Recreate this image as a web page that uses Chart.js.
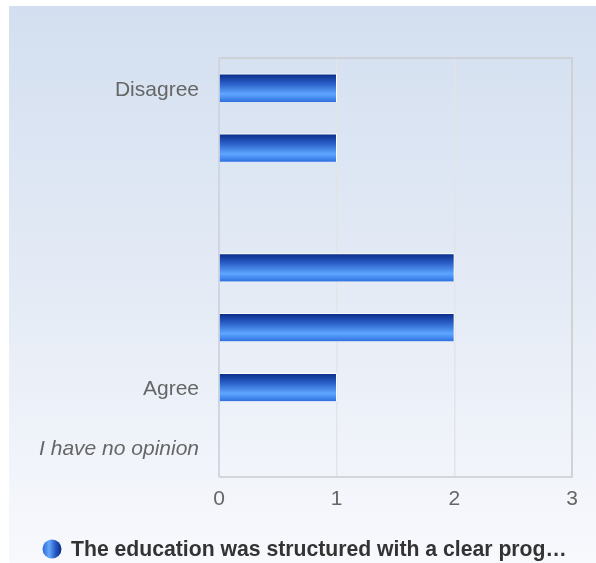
<!DOCTYPE html>
<html>
<head>
<meta charset="utf-8">
<script src="https://cdn.jsdelivr.net/npm/chart.js@4/dist/chart.umd.min.js"></script>
<style>
  html, body { margin: 0; padding: 0; background: #ffffff; }
  #wrap { position: relative; width: 596px; height: 563px; }
  #bg { position: absolute; left: 9px; top: 6px; width: 587px; height: 557px;
        background: linear-gradient(to bottom, #d3dff0 0%, #e6ecf6 55%, #f8f9fd 100%); }
  #c { position: absolute; left: 0; top: 0; }
</style>
</head>
<body>
<div id="wrap">
  <div id="bg"></div>
  <canvas id="c" width="596" height="563"></canvas>
</div>
<script>
const categories = ['Disagree', '', '', '', '', 'Agree', 'I have no opinion'];
const values = [1, 1, 0, 2, 2, 1, 0];
const xTicks = [0, 1, 2, 3];
const seriesLabel = 'The education was structured with a clear prog\u2026';

const FONT = '"Liberation Sans", Arial, sans-serif';

function barGradient(ctx) {
  const chart = ctx.chart;
  const y = chart.scales && chart.scales.y;
  if (!y || ctx.dataIndex === undefined || !chart.chartArea) return '#3b7be8';
  const c = y.getPixelForValue(ctx.dataIndex);
  const h = 28;
  const g = chart.ctx.createLinearGradient(0, c - h / 2, 0, c + h / 2);
  g.addColorStop(0, '#0a2b86');
  g.addColorStop(0.35, '#2a60c8');
  g.addColorStop(0.72, '#5ea6ff');
  g.addColorStop(1, '#2f70e0');
  return g;
}

const frame = {
  id: 'frame',
  beforeDatasetsDraw(chart) {
    const a = chart.chartArea, ctx = chart.ctx;
    ctx.save();
    ctx.strokeStyle = '#cbcbcb';
    ctx.lineWidth = 1.5;
    ctx.beginPath();
    ctx.moveTo(a.left, a.top); ctx.lineTo(a.right, a.top); ctx.lineTo(a.right, a.bottom); ctx.lineTo(a.left, a.bottom);
    ctx.stroke();
    ctx.strokeStyle = '#c9d1df';
    ctx.beginPath(); ctx.moveTo(a.left, a.top); ctx.lineTo(a.left, a.bottom); ctx.stroke();
    ctx.restore();
  },
  afterDraw(chart) {
    const ctx = chart.ctx;
    const cx = 52, cy = 549, r = 9.5;
    ctx.save();
    const g = ctx.createLinearGradient(cx - r, 0, cx + r, 0);
    g.addColorStop(0, '#2d6ad6');
    g.addColorStop(0.35, '#64a8fa');
    g.addColorStop(0.7, '#2356c2');
    g.addColorStop(1, '#0b2a80');
    ctx.fillStyle = g;
    ctx.beginPath(); ctx.arc(cx, cy, r, 0, Math.PI * 2); ctx.fill();
    ctx.fillStyle = '#333333';
    ctx.font = 'bold 21.2px ' + FONT;
    ctx.textBaseline = 'middle';
    ctx.textAlign = 'left';
    ctx.fillText(chart.data.datasets[0].label, 71, cy + 1);
    ctx.restore();
  }
};

new Chart(document.getElementById('c'), {
  type: 'bar',
  data: {
    labels: categories,
    datasets: [{
      label: seriesLabel,
      data: values,
      backgroundColor: barGradient,
      borderColor: 'rgba(255,255,255,0.95)',
      borderWidth: { top: 1, right: 1, bottom: 0, left: 0 },
      borderSkipped: false,
      barThickness: 28
    }]
  },
  plugins: [frame],
  options: {
    indexAxis: 'y',
    responsive: false,
    animation: false,
    layout: { padding: { top: 58, right: 24, left: 0, bottom: 0 } },
    plugins: { legend: { display: false }, tooltip: { enabled: false } },
    scales: {
      x: {
        min: 0, max: 3,
        afterBuildTicks(s) { s.ticks = xTicks.map(v => ({ value: v })); },
        afterFit(s) { s.height = 86; },
        grid: { color: '#e2e4e8', lineWidth: 1.5, drawTicks: false, drawOnChartArea: true },
        border: { display: false },
        ticks: { color: '#666666', font: { family: FONT, size: 21 }, padding: 10 }
      },
      y: {
        afterFit(s) { s.width = 219; },
        grid: { display: false, drawTicks: false },
        border: { display: false },
        ticks: {
          color: '#666666',
          padding: 20,
          labelOffset: 2,
          font: (c) => ({ family: FONT, size: 21, style: c.index === 6 ? 'italic' : 'normal' })
        }
      }
    }
  }
});
</script>
</body>
</html>
